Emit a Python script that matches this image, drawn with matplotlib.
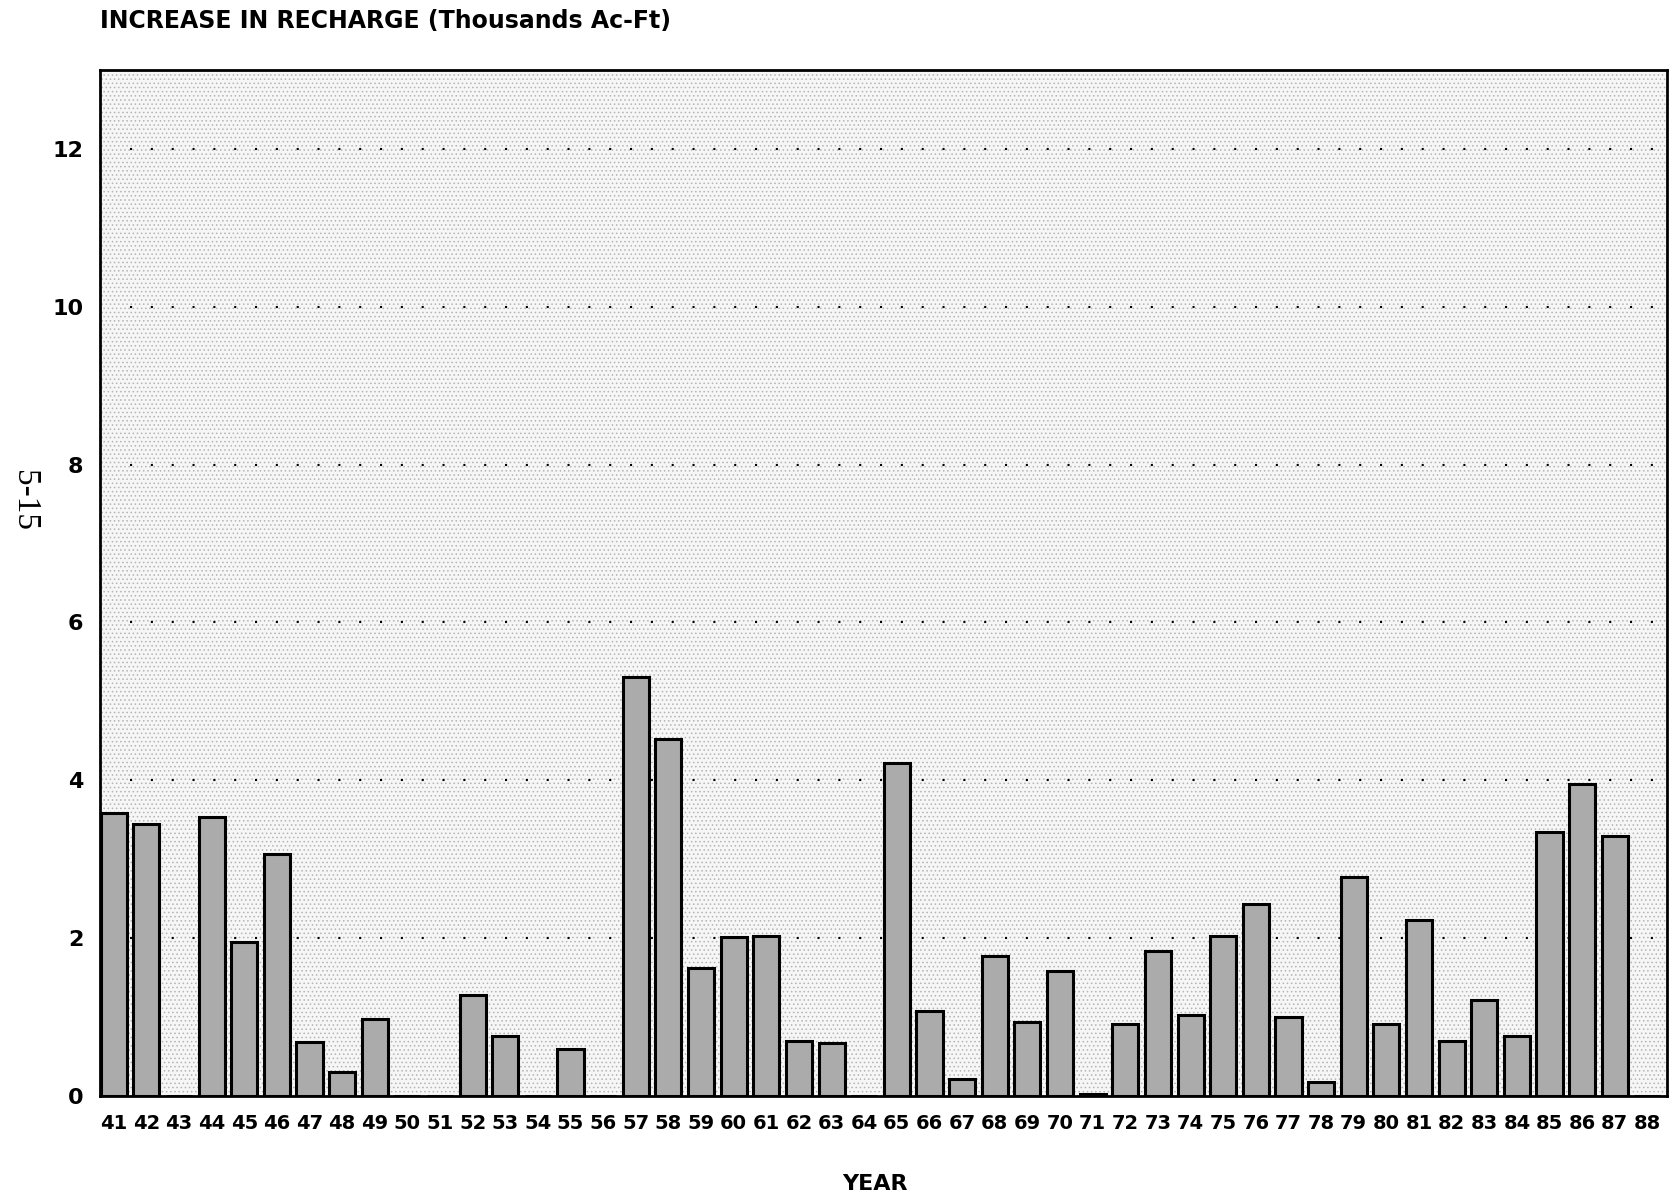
import numpy as np
import matplotlib
matplotlib.use("Agg")
import matplotlib.pyplot as plt

plt.rcParams['font.family'] = ['DejaVu Sans']
plt.rcParams['hatch.linewidth'] = 0.6

# Increase in recharge per year (thousands acre-feet)
years = list(range(41, 89))
recharge = [3.59, 3.44, 0.0, 3.54, 1.95, 3.07, 0.69, 0.31, 0.97, 0.0,
            0.0, 1.28, 0.76, 0.0, 0.59, 0.0, 5.31, 4.52, 1.62, 2.02,
            2.03, 0.70, 0.67, 0.0, 4.22, 1.08, 0.22, 1.77, 0.94, 1.58,
            0.03, 0.91, 1.84, 1.03, 2.03, 2.43, 1.00, 0.18, 2.77, 0.91,
            2.23, 0.70, 1.22, 0.76, 3.35, 3.95, 3.30, 0.0]
grid_levels = [2, 4, 6, 8, 10, 12]
y_ticks = [0, 2, 4, 6, 8, 10, 12]

fig = plt.figure(figsize=(16.72, 11.97), dpi=100)
ax = fig.add_axes([0.0598, 0.0844, 0.9372, 0.8571])

# stippled background
ax.set_facecolor('#f6f6f6')
bg = plt.Rectangle((0, 0), 1, 1, transform=ax.transAxes, facecolor='none',
                   edgecolor='#b4b4b4', hatch='....', linewidth=0, zorder=0)
ax.add_patch(bg)

for y in grid_levels:
    ax.hlines(y, 41.5, 88.6, colors='black', linestyles=(0, (1, 9)),
              linewidth=1.5, zorder=1)

ax.bar(years, recharge, width=0.8, color='#ababab', edgecolor='black',
       linewidth=2.2, zorder=2)

ax.set_xlim(40.58, 88.6)
ax.set_ylim(0, 13)
ax.set_xticks(years)
ax.set_xticklabels([str(y) for y in years], fontsize=14, fontweight='bold')
ax.set_yticks(y_ticks)
ax.set_yticklabels([str(t) for t in y_ticks], fontsize=16,
                   fontweight='bold')
ax.tick_params(axis='x', length=0, pad=13)
ax.tick_params(axis='y', length=0, pad=12)
for s in ax.spines.values():
    s.set_linewidth(2.0)

fig.text(100 / 1672, 1 - 28 / 1197, 'INCREASE IN RECHARGE (Thousands Ac-Ft)',
         fontsize=17, fontweight='bold', ha='left', va='baseline')
fig.text(875 / 1672, 1 - 1190 / 1197, 'YEAR', fontsize=16,
         fontweight='bold', ha='center', va='baseline')
fig.text(24 / 1672, 1 - 500 / 1197, '5-15', fontsize=24,
         family='Liberation Serif', rotation=-90, ha='center', va='center')

fig.savefig('out.png', dpi=100)
